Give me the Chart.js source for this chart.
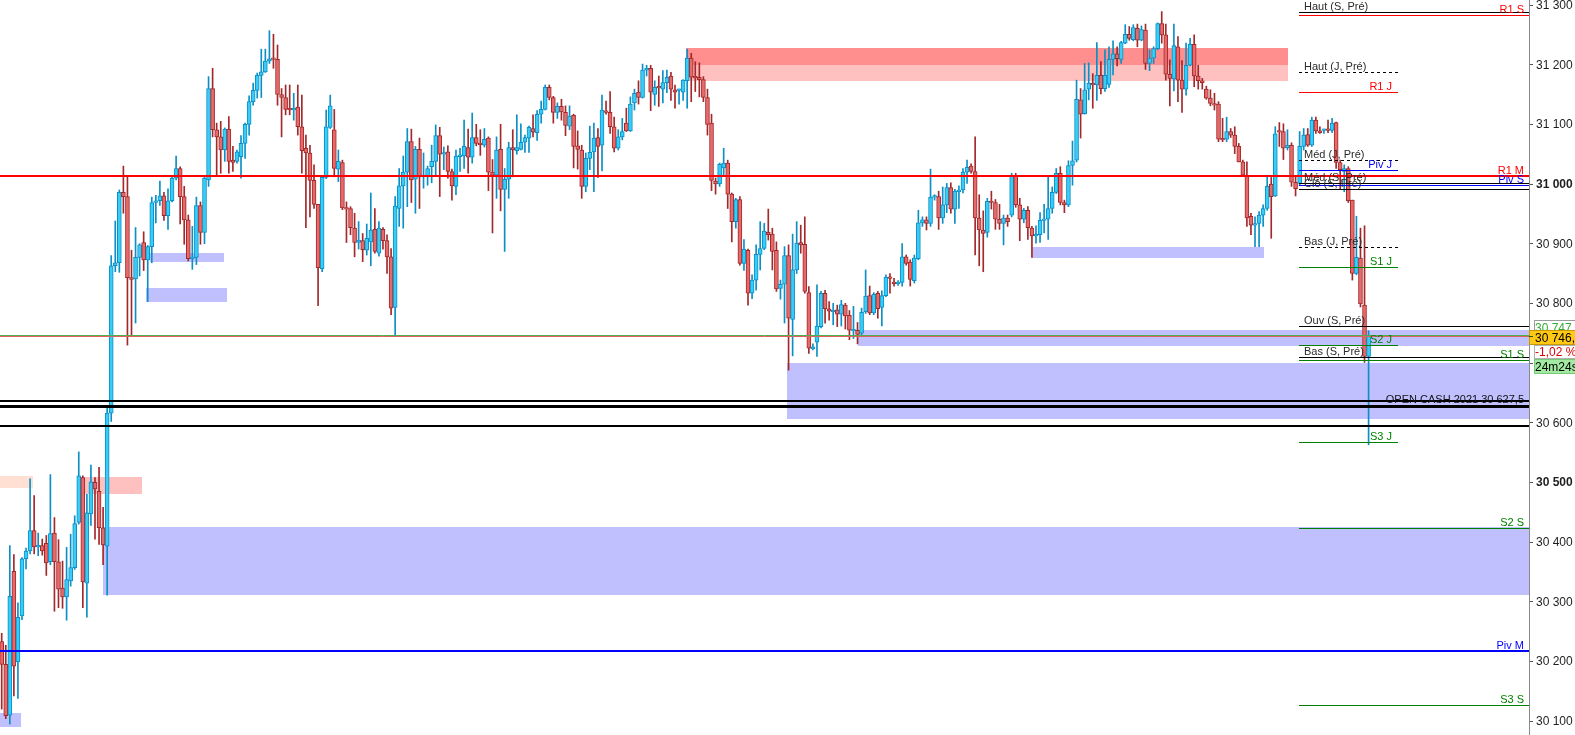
<!DOCTYPE html>
<html><head><meta charset="utf-8">
<script src="https://cdn.jsdelivr.net/npm/chart.js@4.4.1/dist/chart.umd.min.js"></script>
<style>html,body{margin:0;padding:0;background:#fff;overflow:hidden}canvas{display:block}</style>
</head><body>
<canvas id="c" width="1575" height="735"></canvas>
<script>
// ---------------- DATA ----------------
const opens=[30233,30195,30110,30351,30199,30276,30372,30385,30419,30392,
30394,30398,30367,30415,30367,30323,30308,30335,30357,30433,
30508,30331,30447,30500,30485,30424,30393,30616,30863,30868,
30986,30979,30843,30841,30877,30902,30873,30895,30969,30972,
30980,30947,30972,31010,31026,30979,30940,30875,30877,30964,
30919,31007,31160,31091,31079,31057,31092,31040,31038,31046,
31068,31100,31138,31157,31182,31188,31206,31211,31209,31150,
31145,31127,31124,31129,31096,31060,31052,31006,30966,30858,
31011,31095,31091,31025,31036,30960,30959,30926,30902,30905,
30889,30903,30924,30884,30924,30905,30878,30793,30959,30997,
31020,31071,31008,31058,31012,31013,31029,31038,31081,31050,
31054,31021,30996,31046,31047,31061,31045,31078,31068,31065,
31077,31020,31015,31058,30991,31008,31061,31056,31058,31070,
31077,31093,31086,31117,31125,31162,31145,31120,31130,31120,
31097,31115,31064,31057,30996,31043,31054,31078,31065,31122,
31120,31096,31060,31079,31102,31089,31136,31154,31145,31191,
31194,31150,31163,31159,31170,31181,31158,31157,31154,31173,
31211,31180,31179,31175,31145,31102,31005,31000,31027,31035,
30983,30937,30974,30867,30889,30817,30839,30882,30892,30919,
30916,30889,30825,30832,30880,30773,30856,30902,30899,30818,
30724,30735,30761,30817,30791,30786,30789,30782,30797,30780,
30754,30755,30750,30786,30813,30784,30817,30793,30813,30844,
30835,30833,30835,30878,30869,30838,30875,30935,30940,30934,
30978,30979,30943,30965,30994,30958,30987,30990,31020,31030,
31021,30943,30923,30919,30971,30969,30941,30934,30943,30948,
31013,30965,30941,30956,30926,30913,30915,30939,30941,30959,
30986,31018,30969,30965,31031,31040,31141,31118,31159,31169,
31166,31182,31160,31167,31209,31218,31209,31236,31251,31242,
31261,31241,31258,31202,31211,31227,31269,31250,31184,31176,
31230,31174,31159,31199,31234,31181,31173,31159,31144,31135,
31134,31075,31075,31088,31082,31063,31037,31015,30946,30931,
30934,30948,30959,31000,30980,31088,31088,31061,31065,31003,
31001,31063,31083,31065,31107,31089,31090,31092,31090,31103,
31036,31021,31026,30973,30850,30876,30797,30711];
const closes=[30195,30109,30309,30192,30274,30372,30385,30419,30392,30394,
30385,30365,30414,30367,30321,30308,30337,30357,30431,30511,
30333,30449,30501,30489,30424,30395,30616,30863,30868,30986,
30979,30843,30840,30877,30898,30873,30895,30969,30972,30980,
30947,30972,31010,31026,30979,30940,30875,30877,30964,30919,
31010,31160,31091,31079,31057,31092,31038,31036,31054,31068,
31100,31138,31157,31182,31188,31206,31210,31209,31150,31145,
31125,31124,31127,31096,31056,31052,31006,30966,30860,31011,
31096,31131,31026,31038,30960,30958,30927,30902,30906,30890,
30909,30923,30887,30926,30905,30878,30792,30963,30997,31020,
31071,31007,31058,31012,31015,31026,31038,31081,31050,31052,
31021,30997,31047,31049,31063,31045,31078,31068,31066,31075,
31020,31015,31057,30991,31008,31061,31057,31061,31070,31078,
31095,31087,31117,31125,31162,31145,31120,31130,31121,31098,
31114,31063,31058,30996,31043,31053,31077,31063,31124,31120,
31096,31060,31079,31088,31089,31134,31152,31145,31191,31194,
31154,31162,31161,31170,31179,31159,31154,31158,31174,31211,
31179,31178,31175,31145,31100,31006,31000,31033,31035,30983,
30937,30974,30867,30891,30817,30839,30882,30892,30921,30915,
30887,30824,30832,30880,30775,30856,30901,30898,30820,30725,
30727,30762,30817,30791,30787,30788,30782,30798,30779,30755,
30755,30748,30785,30812,30784,30815,30791,30813,30844,30842,
30833,30835,30878,30867,30840,30876,30935,30940,30934,30978,
30980,30943,30965,30994,30958,30988,30990,31020,31028,31021,
30943,30923,30917,30971,30969,30941,30934,30943,30937,31013,
30965,30941,30956,30927,30913,30914,30939,30941,30959,30986,
31018,30969,30965,31031,31039,31142,31117,31158,31169,31166,
31182,31160,31182,31209,31218,31210,31237,31251,31244,31262,
31241,31259,31202,31211,31227,31269,31250,31184,31177,31232,
31174,31159,31199,31234,31181,31173,31170,31144,31135,31132,
31075,31074,31088,31082,31063,31037,31015,30943,30931,30932,
30948,30959,30996,30979,31084,31087,31060,31065,31003,30992,
31063,31082,31065,31107,31089,31086,31091,31090,31102,31036,
31024,31026,30972,30850,30877,30799,30711,30746];
const highs=[30247,30227,30394,30379,30298,30374,30390,30506,30478,30415,
30405,30411,30513,30441,30404,30368,30391,30413,30444,30551,
30511,30480,30529,30508,30525,30458,30624,30880,30938,30990,
31030,31012,30889,30927,30900,30920,30897,30978,30981,31005,
30986,30992,31014,31047,31029,30996,30948,30929,30978,30970,
31012,31180,31194,31102,31105,31094,31113,31063,31057,31081,
31102,31148,31169,31186,31226,31226,31257,31251,31233,31160,
31166,31166,31152,31166,31149,31082,31065,31032,30966,31013,
31124,31149,31125,31057,31040,30970,30962,30951,30937,30917,
30933,30985,30959,30937,30927,30915,30892,30979,31026,31047,
31093,31092,31063,31077,31052,31030,31065,31099,31095,31062,
31064,31025,31057,31060,31107,31092,31119,31100,31091,31093,
31079,31041,31079,31100,31026,31070,31091,31116,31101,31082,
31097,31116,31123,31139,31166,31166,31147,31136,31142,31131,
31131,31117,31089,31065,31052,31097,31102,31093,31149,31139,
31155,31112,31091,31110,31127,31146,31159,31173,31201,31199,
31199,31173,31181,31190,31191,31187,31166,31159,31175,31226,
31219,31205,31203,31180,31159,31117,31010,31035,31060,31040,
30985,30976,30979,30907,30891,30848,30898,30937,30934,30958,
30926,30903,30839,30895,30898,30916,30937,30931,30945,30828,
30732,30831,30820,30822,30803,30800,30797,30805,30800,30788,
30795,30768,30792,30856,30829,30818,30820,30821,30848,30850,
30842,30838,30900,30881,30873,30881,30956,30945,30945,31025,
30982,30988,30995,31001,31002,30991,30997,31026,31040,31034,
31079,30982,30955,30976,30988,30974,30966,30948,30948,31018,
31018,30976,30959,30962,30929,30930,30952,30966,31012,30995,
31026,31029,30973,31039,31072,31174,31160,31202,31203,31185,
31237,31205,31225,31230,31240,31230,31239,31267,31264,31267,
31268,31265,31268,31225,31230,31270,31289,31268,31208,31268,
31247,31207,31236,31244,31250,31199,31177,31164,31158,31152,
31138,31110,31112,31093,31096,31068,31040,31037,30951,30945,
30954,30965,31012,31011,31096,31103,31101,31091,31069,31012,
31088,31093,31093,31112,31112,31096,31092,31107,31110,31104,
31040,31032,31029,30973,30946,30926,30930,30754];
const lows=[30120,30104,30095,30142,30138,30270,30355,30380,30380,30377,
30378,30344,30362,30284,30290,30289,30269,30326,30354,30430,
30290,30274,30428,30405,30396,30362,30311,30602,30853,30852,
30951,30730,30747,30767,30846,30855,30803,30868,30935,30964,
30939,30924,30970,31007,30933,30899,30871,30857,30865,30899,
30900,30996,31079,31015,31018,31038,31018,31021,31035,31010,
31043,31082,31132,31144,31145,31187,31202,31194,31132,31079,
31116,31116,31107,31082,31018,30927,30945,30959,30796,30853,
31009,31093,31012,31004,30957,30902,30915,30878,30891,30870,
30881,30863,30884,30879,30891,30850,30781,30744,30929,30926,
30962,30969,30951,30959,30993,30998,31002,31015,30979,31024,
31010,30973,30982,31021,31026,31018,31035,31064,31048,31062,
30989,30918,30976,30955,30887,30976,31012,31050,31057,31053,
31053,31079,31073,31102,31124,31141,31102,31110,31107,31081,
31091,31027,31025,30976,30987,31024,30987,31011,31022,31117,
31085,31054,31057,31074,31088,31088,31124,31134,31144,31181,
31123,31132,31130,31136,31153,31140,31127,31134,31140,31127,
31138,31155,31146,31138,31082,30989,30983,30996,31015,30959,
30903,30926,30864,30855,30797,30808,30822,30856,30890,30906,
30856,30820,30807,30767,30688,30712,30850,30884,30817,30716,
30722,30711,30759,30767,30772,30764,30761,30762,30757,30739,
30741,30732,30747,30783,30781,30781,30775,30762,30811,30817,
30829,30830,30829,30864,30829,30834,30873,30929,30923,30929,
30973,30924,30934,30952,30951,30934,30959,30985,31001,31018,
30881,30863,30853,30911,30958,30924,30924,30898,30929,30945,
30961,30905,30935,30907,30877,30901,30902,30918,30907,30951,
30984,30965,30952,30962,30998,31037,31077,31117,31141,31127,
31140,31151,31155,31162,31183,31198,31202,31235,31241,31240,
31230,31240,31192,31190,31202,31225,31236,31174,31131,31156,
31138,31120,31149,31198,31163,31159,31159,31142,31131,31124,
31071,31071,31071,31078,31051,31037,31015,30929,30915,30895,
30895,30929,30956,30909,30979,31063,31041,31057,30996,30980,
30998,31057,31063,31063,31085,31085,31085,31086,31086,31026,
30991,30987,30969,30839,30848,30794,30701,30563];

const yTicks=[30100,30200,30300,30400,30500,30600,30700,30800,30900,31000,31100,31200,31300];
const lastPrice=30746.1;
const askPrice=30747.1;
const changePct=-1.02;
const timeLeft='24m24s';

// levels (price lines)
const levelNames=['Haut (S, Pré)','R1 S','Haut (J, Pré)','R1 J','Méd (J, Pré)','Piv J','R1 M','Méd (S, Pré)','Piv S','Clô (S, Pré)','Bas (J, Pré)','S1 J','Ouv (S, Pré)','S2 J','Bas (S, Pré)','S1 S','Cash haut','OPEN CASH 2021','Cash bas','S3 J','S2 S','Piv M','S3 S'];
const levelValues=[31288,31283,31188,31154,31040,31023,31014,31001,30998,30992,30894,30861,30762,30730,30709.5,30705,30636,30627.5,30595,30567,30423,30218,30127];

// zones (candle index range, price range)
const zoneKind=['offreForte','offre','demande','demande','demande','demande','demande','demande','offre','attente','demande'];
const zoneStart=[168.6,168.6,36.6,35.6,254.0,211.1,193.5,25.0,19.1,-0.5,-0.5];
const zoneEnd=[317.1,317.1,54.8,55.5,311.1,null,null,null,34.6,7.7,4.8];
const zoneLow=[31199,31173,30869,30803,30876,30729,30607,30312,30480,30490,30090];
const zoneHigh=[31228,31199,30884,30826,30894,30755,30700,30425,30509,30510,30113];

// ---------------- STYLE ----------------
const BULL_FILL='#38cdf6', BULL_LINE='#0b8fc6', BEAR_FILL='#e66a6a', BEAR_LINE='#a3282a';
const ZONE_STYLE={offreForte:'#ff8f8f',offre:'#ffc0c0',demande:'#c0c0ff',attente:'#ffe0d2'};
const FONT='"Liberation Sans", Arial, sans-serif';
const X_MIN=-0.42, X_MAX=376.55, SHORT_FROM=319.9, J_TO=344.3;
const AXIS_W=46, TICK_LEN=4;
const RED='#ff0000', BLUE='#0000ff', GREEN='#008000', BLACK='#000000';
const LEVEL_STYLE={
 'Haut (S, Pré)':{c:BLACK,w:1,span:'S',lab:'L'},
 'R1 S':{c:RED,w:1,span:'S',lab:'R'},
 'Haut (J, Pré)':{c:BLACK,w:1,dash:[3,3],span:'J',lab:'L'},
 'R1 J':{c:RED,w:1,span:'J',lab:'RJ'},
 'Méd (J, Pré)':{c:BLACK,w:1,dash:[3,3],span:'J',lab:'L'},
 'Piv J':{c:BLUE,w:1,span:'J',lab:'RJ'},
 'R1 M':{c:RED,w:2,span:'F',lab:'R'},
 'Méd (S, Pré)':{c:BLACK,w:1,span:'S',lab:'L'},
 'Piv S':{c:BLUE,w:1,span:'S',lab:'R'},
 'Clô (S, Pré)':{c:BLACK,w:1,span:'S',lab:'L'},
 'Bas (J, Pré)':{c:BLACK,w:1,dash:[3,3],span:'J',lab:'L'},
 'S1 J':{c:GREEN,w:1,span:'J',lab:'RJ'},
 'Ouv (S, Pré)':{c:BLACK,w:1,span:'S',lab:'L'},
 'S2 J':{c:GREEN,w:1,span:'J',lab:'RJ'},
 'Bas (S, Pré)':{c:BLACK,w:1,span:'S',lab:'L'},
 'S1 S':{c:GREEN,w:1,span:'S',lab:'R'},
 'Cash haut':{c:BLACK,w:2,span:'F',lab:'N'},
 'OPEN CASH 2021':{c:BLACK,w:3,span:'F',lab:'CASH'},
 'Cash bas':{c:BLACK,w:2,span:'F',lab:'N'},
 'S3 J':{c:GREEN,w:1,span:'J',lab:'RJ'},
 'S2 S':{c:GREEN,w:1,span:'S',lab:'R'},
 'Piv M':{c:BLUE,w:2,span:'F',lab:'R'},
 'S3 S':{c:GREEN,w:1,span:'S',lab:'R'}
};
function fmt(v,dec){
  const s=dec?v.toFixed(dec):String(Math.round(v));
  const parts=s.split('.');
  parts[0]=parts[0].replace(/\B(?=(\d{3})+(?!\d))/g,' ');
  return parts.join(',');
}

const bull=i=>closes[i]>=opens[i];
const bodyData=opens.map((o,i)=>({x:i,y:[o,closes[i]]}));
const wickData=lows.map((l,i)=>({x:i,y:[l,highs[i]]}));

const overlay={
 id:'overlay',
 beforeDatasetsDraw(chart){
  const {ctx,chartArea:a,scales:{x,y}}=chart;
  ctx.save();
  ctx.beginPath();ctx.rect(a.left,a.top,a.right-a.left,a.bottom-a.top);ctx.clip();
  for(let k=0;k<zoneStart.length;k++){
    const x1=Math.round(x.getPixelForValue(zoneStart[k]));
    const x2=zoneEnd[k]==null?a.right:Math.round(x.getPixelForValue(zoneEnd[k]));
    const y1=Math.round(y.getPixelForValue(zoneHigh[k])),y2=Math.round(y.getPixelForValue(zoneLow[k]));
    ctx.fillStyle=ZONE_STYLE[zoneKind[k]];
    ctx.fillRect(x1,y1,x2-x1,y2-y1);
  }
  ctx.restore();
 },
 afterDatasetsDraw(chart){
  const {ctx,chartArea:a,scales:{x,y}}=chart;
  ctx.save();
  // current price line
  const yp=Math.round(y.getPixelForValue(lastPrice));
  ctx.lineWidth=1;
  ctx.strokeStyle='#4cb050';ctx.beginPath();ctx.moveTo(a.left,yp-0.5);ctx.lineTo(a.right,yp-0.5);ctx.stroke();
  ctx.strokeStyle='#e06060';ctx.beginPath();ctx.moveTo(a.left,yp+0.5);ctx.lineTo(a.right,yp+0.5);ctx.stroke();
  ctx.font='11px '+FONT;
  for(let k=0;k<levelNames.length;k++){
    const st=LEVEL_STYLE[levelNames[k]];
    const x1=st.span==='F'?a.left:Math.round(x.getPixelForValue(SHORT_FROM));
    const x2=st.span==='J'?Math.round(x.getPixelForValue(J_TO)):a.right;
    let yy=y.getPixelForValue(levelValues[k]);
    yy=(st.w%2===1)?Math.round(yy)+0.5:Math.round(yy);
    ctx.strokeStyle=st.c;ctx.lineWidth=st.w;ctx.setLineDash(st.dash||[]);
    ctx.beginPath();ctx.moveTo(x1,yy);ctx.lineTo(x2,yy);ctx.stroke();
    ctx.setLineDash([]);
    ctx.textBaseline='alphabetic';
    if(st.lab==='L'){ctx.fillStyle='#2b2b2b';ctx.textAlign='left';ctx.fillText(levelNames[k],x1+5,yy-2.5);}
    else if(st.lab==='R'){ctx.fillStyle=st.c;ctx.textAlign='right';ctx.fillText(levelNames[k],a.right-5,yy-2.5);}
    else if(st.lab==='RJ'){ctx.fillStyle=st.c;ctx.textAlign='right';ctx.fillText(levelNames[k],x2-6,yy-2.5);}
    else if(st.lab==='CASH'){ctx.fillStyle='#111';ctx.textAlign='right';ctx.fillText(levelNames[k]+' '+fmt(levelValues[k],1),a.right-5,yy-4);}
  }
  ctx.restore();
 },
 afterDraw(chart){
  const {ctx,chartArea:a,scales:{y}}=chart;
  const L=a.right;
  ctx.save();
  // y tick labels (positions from the library's y scale)
  ctx.textAlign='left';ctx.textBaseline='middle';ctx.fillStyle='#1e1e1e';
  for(const v of yTicks){
    ctx.font=(v%500===0?'bold ':'')+'12px '+FONT;
    ctx.fillText(fmt(v),L+TICK_LEN+3,Math.round(y.getPixelForValue(v))+0.5);
  }
  const yp=Math.round(y.getPixelForValue(lastPrice));
  ctx.font='12px '+FONT;ctx.textAlign='left';ctx.textBaseline='alphabetic';
  // ask box (partly hidden)
  ctx.fillStyle='#fff';ctx.fillRect(L+5,yp-16,41,12);
  ctx.strokeStyle='#9a9a9a';ctx.lineWidth=1;ctx.strokeRect(L+5.5,yp-15.5,41,12);
  ctx.fillStyle='#33aa33';ctx.fillText(fmt(askPrice,1),L+6,yp-4);
  // last price box
  ctx.fillStyle='#ffc815';ctx.fillRect(L,yp-6,46,15);
  ctx.strokeStyle='#c89a00';ctx.strokeRect(L+0.5,yp-5.5,46,14);
  ctx.fillStyle='#000';ctx.fillText(fmt(lastPrice,1),L+6,yp+6);
  ctx.strokeStyle='#1a5a1a';ctx.beginPath();ctx.moveTo(L,yp+0.5);ctx.lineTo(L+4,yp+0.5);ctx.stroke();
  // change box
  ctx.fillStyle='#fff';ctx.fillRect(L+5,yp+9,41,13);
  ctx.strokeStyle='#b0b0b0';ctx.strokeRect(L+5.5,yp+9.5,41,13);
  ctx.fillStyle='#dd0000';ctx.fillText(fmt(changePct,2)+' %',L+6,yp+20);
  // time box
  ctx.fillStyle='#a2eaa2';ctx.fillRect(L+5,yp+23,41,14);
  ctx.strokeStyle='#78c878';ctx.strokeRect(L+5.5,yp+23.5,41,14);
  ctx.fillStyle='#000';ctx.fillText(timeLeft,L+6,yp+35);
  ctx.restore();
 }
};

new Chart(document.getElementById('c'),{
 type:'bar',
 data:{datasets:[
  {data:bodyData,order:0,grouped:false,barThickness:4,borderWidth:1,borderSkipped:false,minBarLength:1.5,
   backgroundColor:bodyData.map((d,i)=>bull(i)?BULL_FILL:BEAR_FILL),
   borderColor:bodyData.map((d,i)=>bull(i)?BULL_LINE:BEAR_LINE)},
  {data:wickData,order:1,grouped:false,barThickness:1,borderWidth:0,
   backgroundColor:wickData.map((d,i)=>bull(i)?BULL_LINE:BEAR_LINE)}
 ]},
 options:{
  responsive:false,animation:false,devicePixelRatio:1,
  layout:{padding:{left:0,top:0,bottom:0,right:AXIS_W-TICK_LEN}},
  plugins:{legend:{display:false},tooltip:{enabled:false}},
  scales:{
   x:{type:'linear',min:X_MIN,max:X_MAX,display:false,offset:false},
   y:{position:'right',min:30076.6,max:31308.4,
      afterBuildTicks:s=>{s.ticks=yTicks.map(v=>({value:v}));},
      grid:{drawOnChartArea:false,drawTicks:true,tickLength:TICK_LEN,color:'#555'},
      border:{display:true,color:'#8a8a8a',width:1},
      ticks:{display:false}
   }
  }
 },
 plugins:[overlay]
});
</script>
</body></html>
